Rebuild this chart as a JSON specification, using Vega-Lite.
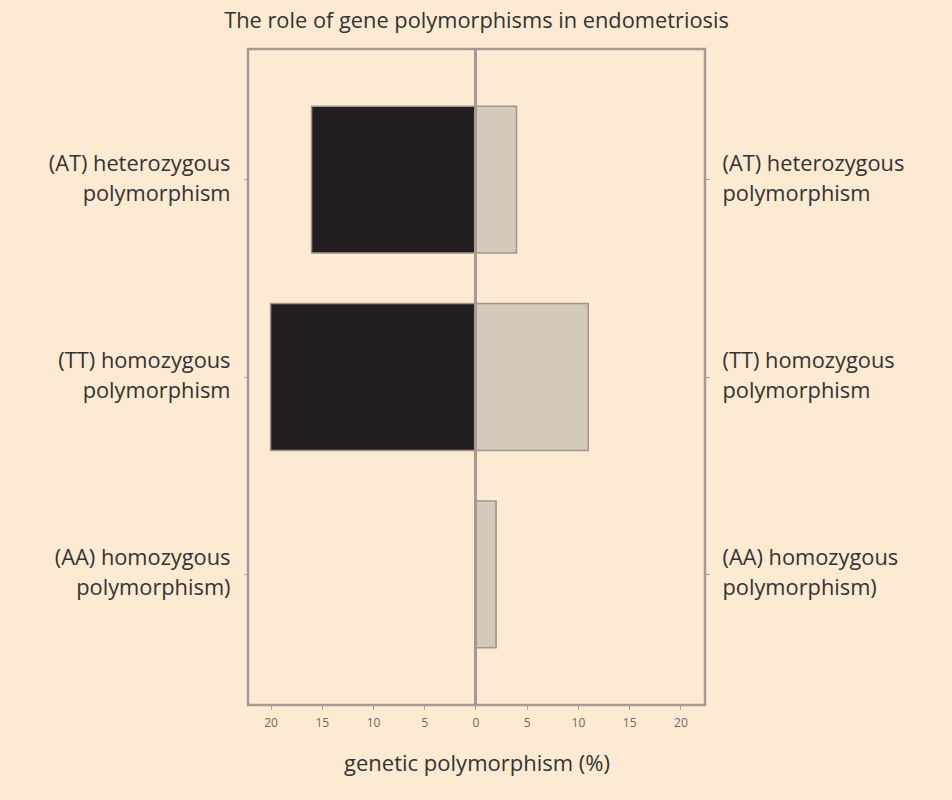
{
  "$schema": "https://vega.github.io/schema/vega-lite/v6.json",
  "autosize": "none",
  "padding": {"left": 248, "top": 49, "right": 247, "bottom": 95},
  "width": 457,
  "height": 656,
  "background": "#fdead2",
  "title": {
    "text": "The role of gene polymorphisms in endometriosis",
    "font": "Open Sans",
    "fontSize": 21.8,
    "fontWeight": "normal",
    "color": "#333333",
    "anchor": "middle",
    "offset": 15
  },
  "data": {
    "values": [
      {"genotype": "(AT) heterozygous|polymorphism", "group": "endometriosis", "percent": -16},
      {"genotype": "(AT) heterozygous|polymorphism", "group": "control", "percent": 4},
      {"genotype": "(TT) homozygous|polymorphism", "group": "endometriosis", "percent": -20},
      {"genotype": "(TT) homozygous|polymorphism", "group": "control", "percent": 11},
      {"genotype": "(AA) homozygous|polymorphism)", "group": "endometriosis", "percent": 0},
      {"genotype": "(AA) homozygous|polymorphism)", "group": "control", "percent": 2}
    ]
  },
  "layer": [
    {
      "mark": {"type": "bar", "stroke": "#9e968e", "strokeWidth": 1.5},
      "encoding": {
        "x": {
          "field": "percent",
          "type": "quantitative",
          "scale": {"domain": [-22.2, 22.4], "nice": false, "zero": false},
          "title": "genetic polymorphism (%)",
          "axis": {
            "values": [-20, -15, -10, -5, 0, 5, 10, 15, 20],
            "labelExpr": "abs(datum.value)",
            "grid": false,
            "domain": false,
            "tickSize": 4,
            "tickColor": "#a39b93",
            "labelFontSize": 12,
            "labelColor": "#6e6862",
            "labelFont": "Open Sans",
            "labelPadding": 8,
            "titleFont": "Open Sans",
            "titleFontSize": 22,
            "titleFontWeight": "normal",
            "titleColor": "#333333",
            "titlePadding": 25
          }
        },
        "y": {
          "field": "genotype",
          "type": "nominal",
          "sort": null,
          "title": null,
          "scale": {"paddingInner": 0.256, "paddingOuter": 0.29},
          "axis": {
            "orient": "left",
            "labelExpr": "split(datum.label, '|')",
            "domain": false,
            "tickSize": 4,
            "tickColor": "#a39b93",
            "labelFont": "Open Sans",
            "labelFontSize": 21.8,
            "labelColor": "#333333",
            "labelLineHeight": 30,
            "labelLimit": 300,
            "labelPadding": 14,
            "labelAlign": "right",
            "labelBaseline": "middle",
            "labelOffset": -16
          }
        },
        "color": {
          "field": "group",
          "type": "nominal",
          "scale": {"domain": ["endometriosis", "control"], "range": ["#231f20", "#d4c9ba"]},
          "legend": null
        }
      }
    },
    {
      "mark": {"type": "bar", "opacity": 0},
      "encoding": {
        "x": {"field": "percent", "type": "quantitative"},
        "y": {
          "field": "genotype",
          "type": "nominal",
          "sort": null,
          "title": null,
          "axis": {
            "orient": "right",
            "labelExpr": "split(datum.label, '|')",
            "domain": false,
            "tickSize": 4,
            "tickColor": "#a39b93",
            "labelFont": "Open Sans",
            "labelFontSize": 21.8,
            "labelColor": "#333333",
            "labelLineHeight": 30,
            "labelLimit": 300,
            "labelPadding": 13,
            "labelAlign": "left",
            "labelBaseline": "middle",
            "labelOffset": -16
          }
        }
      }
    },
    {
      "mark": {"type": "rule", "color": "#a39b93", "strokeWidth": 2},
      "encoding": {
        "x": {"datum": 0, "type": "quantitative"}
      }
    }
  ],
  "resolve": {"axis": {"y": "independent"}},
  "config": {
    "view": {"stroke": "#a39b93", "strokeWidth": 2.5, "fill": "#fdead2"}
  }
}
